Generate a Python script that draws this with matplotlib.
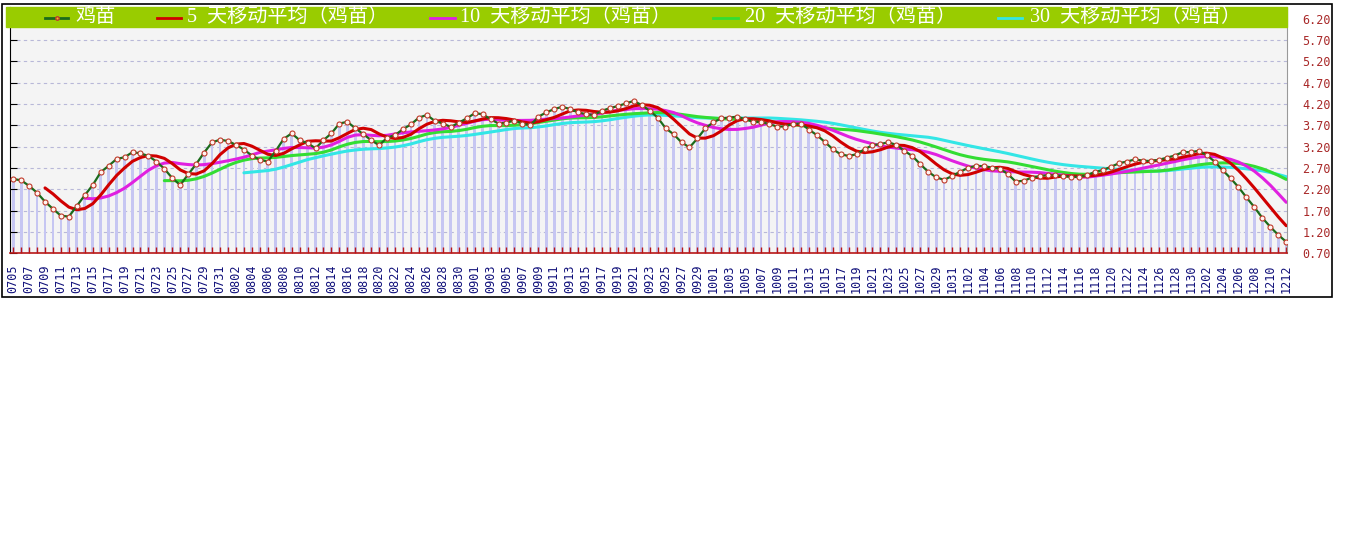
import numpy as np
import pandas as pd
import matplotlib
matplotlib.use('Agg')
import matplotlib.pyplot as plt
from matplotlib.lines import Line2D
from matplotlib.patches import Rectangle
import datetime as dt

# ── data ──────────────────────────────────────────────────────────────
start_date = dt.date(2000, 7, 5)
n_days = 161
dates = [start_date + dt.timedelta(days=i) for i in range(n_days)]
date_labels = [d.strftime('%m%d') for d in dates]

price = [
    2.44, 2.41, 2.28, 2.12, 1.91, 1.74, 1.58, 1.56, 1.81, 2.06,
    2.30, 2.60, 2.75, 2.91, 2.95, 3.07, 3.04, 2.98, 2.85, 2.68,
    2.46, 2.30, 2.55, 2.79, 3.06, 3.30, 3.36, 3.33, 3.24, 3.13,
    2.99, 2.89, 2.85, 3.10, 3.38, 3.51, 3.35, 3.28, 3.16, 3.35,
    3.51, 3.74, 3.78, 3.63, 3.49, 3.35, 3.23, 3.41, 3.47, 3.61,
    3.72, 3.88, 3.94, 3.80, 3.74, 3.66, 3.76, 3.86, 3.98, 3.96,
    3.84, 3.74, 3.76, 3.81, 3.74, 3.70, 3.90, 4.00, 4.08, 4.13,
    4.08, 4.00, 3.96, 3.94, 4.04, 4.10, 4.15, 4.21, 4.27, 4.17,
    4.04, 3.88, 3.63, 3.49, 3.30, 3.18, 3.39, 3.63, 3.77, 3.86,
    3.88, 3.90, 3.84, 3.78, 3.77, 3.73, 3.67, 3.67, 3.73, 3.74,
    3.60, 3.47, 3.31, 3.14, 3.02, 2.98, 3.02, 3.14, 3.23, 3.26,
    3.30, 3.24, 3.10, 2.98, 2.79, 2.61, 2.48, 2.42, 2.51, 2.61,
    2.70, 2.75, 2.74, 2.71, 2.68, 2.56, 2.38, 2.40, 2.47, 2.51,
    2.53, 2.53, 2.51, 2.49, 2.49, 2.53, 2.61, 2.65, 2.73, 2.81,
    2.85, 2.90, 2.87, 2.86, 2.89, 2.94, 2.99, 3.07, 3.07, 3.10,
    3.00, 2.85, 2.65, 2.46, 2.25, 2.01, 1.78, 1.53, 1.32, 1.13,
    0.97,
]

ma_windows = [5, 10, 20, 30]
y_ticks = [0.70, 1.20, 1.70, 2.20, 2.70, 3.20, 3.70, 4.20, 4.70, 5.20, 5.70, 6.20]

series_name = '鸡苗'
ma_names = [f'{n}  天移动平均（{series_name}）' for n in ma_windows]

# ── colours ───────────────────────────────────────────────────────────
DKGREEN = '#1B6B1B'
MA_COLORS = ['#D00000', '#E020E0', '#33DD33', '#33E6E6']
BAR = '#C6C6F2'
BAND = '#99CC00'
AXBG = '#F4F4F4'
GRID = '#B8B8D8'
RLABEL = '#A82828'
XLABEL = '#10107A'

W, H = 1345, 541
fig = plt.figure(figsize=(W / 100, H / 100), dpi=100)
fig.patch.set_facecolor('white')

# axes placed in pixels
ax_l, ax_r, ax_t, ax_b = 10, 1287, 7, 253.3
ax = fig.add_axes([ax_l / W, 1 - ax_b / H, (ax_r - ax_l) / W, (ax_b - ax_t) / H])
ax.set_facecolor(AXBG)

x = np.arange(n_days)
s = pd.Series(price)

# dashed grid behind the bars
for v in y_ticks:
    ax.axhline(v, color=GRID, lw=0.8, ls=(0, (3, 3)), zorder=0.5)

ax.bar(x, price, width=0.35, color=BAR, zorder=1)

# moving averages as named in the legend
for n, c in zip(ma_windows[::-1], MA_COLORS[::-1]):
    ma = s.rolling(n).mean()
    ax.plot(x, ma, color=c, lw=2.2, zorder=3, solid_capstyle='round')

ax.plot(x, price, color=DKGREEN, lw=1.6, zorder=4,
        marker='o', ms=3.6, mfc='#FFF4F0', mec='#C03A2A', mew=0.8)

ax.set_xlim(-0.4, 160.1)
ax.set_ylim(0.70, 6.47)

ax.set_yticks(y_ticks)
ax.set_yticklabels([f'{v:.2f}' for v in y_ticks])
ax.tick_params(axis='y', left=True, right=False, labelleft=False,
               labelright=True, direction='in', length=5, color='black',
               labelcolor=RLABEL, labelsize=8.5, pad=11)
for lab in ax.get_yticklabels():
    lab.set_family('DejaVu Sans Mono')

ax.set_xticks(x[::2])
ax.set_xticklabels(date_labels[::2], rotation=90, family='DejaVu Sans Mono',
                   fontsize=8.5, color=XLABEL)
ax.set_xticks(x[1::2], minor=True)
ax.tick_params(axis='x', which='both', direction='in', length=4,
               color='#B81818', width=1, pad=8)

ax.spines['bottom'].set_color('#B81818')
ax.spines['bottom'].set_linewidth(1.2)
ax.spines['left'].set_color('black')
ax.spines['right'].set_color('#999999')
ax.spines['top'].set_visible(False)

# legend band across the top
fig.patches.append(Rectangle((6 / W, 1 - 27 / H), (1287 - 6) / W, 20 / H,
                             transform=fig.transFigure, color=BAND, zorder=5))
band_y = 1 - 17.5 / H
legend_items = [(45, 68, 75, DKGREEN, series_name, True)]
line_x = [(157, 181, 187), (430, 455, 460), (713, 738, 745), (998, 1022, 1030)]
for (x0, x1, tx), c, name in zip(line_x, MA_COLORS, ma_names):
    legend_items.append((x0, x1, tx, c, name, False))
for x0, x1, tx, c, name, mark in legend_items:
    fig.lines.append(Line2D([x0 / W, x1 / W], [band_y, band_y], color=c,
                            lw=2, transform=fig.transFigure, zorder=6))
    if mark:
        fig.lines.append(Line2D([(x0 + x1) / 2 / W], [band_y], marker='o',
                                ms=2.5, color='#E8C020', mec='#C03A2A',
                                transform=fig.transFigure, zorder=7))
    fig.text(tx / W, band_y, name, color='white', fontsize=14.5,
             family=['Liberation Serif', 'Noto Sans CJK SC'],
             va='center', ha='left', zorder=7)

# outer frame
fig.patches.append(Rectangle((2 / W, 1 - 297 / H), (1332 - 2) / W, (297 - 4) / H,
                             transform=fig.transFigure, fill=False,
                             ec='black', lw=1.2, zorder=8))

fig.savefig('out.png', dpi=100)
